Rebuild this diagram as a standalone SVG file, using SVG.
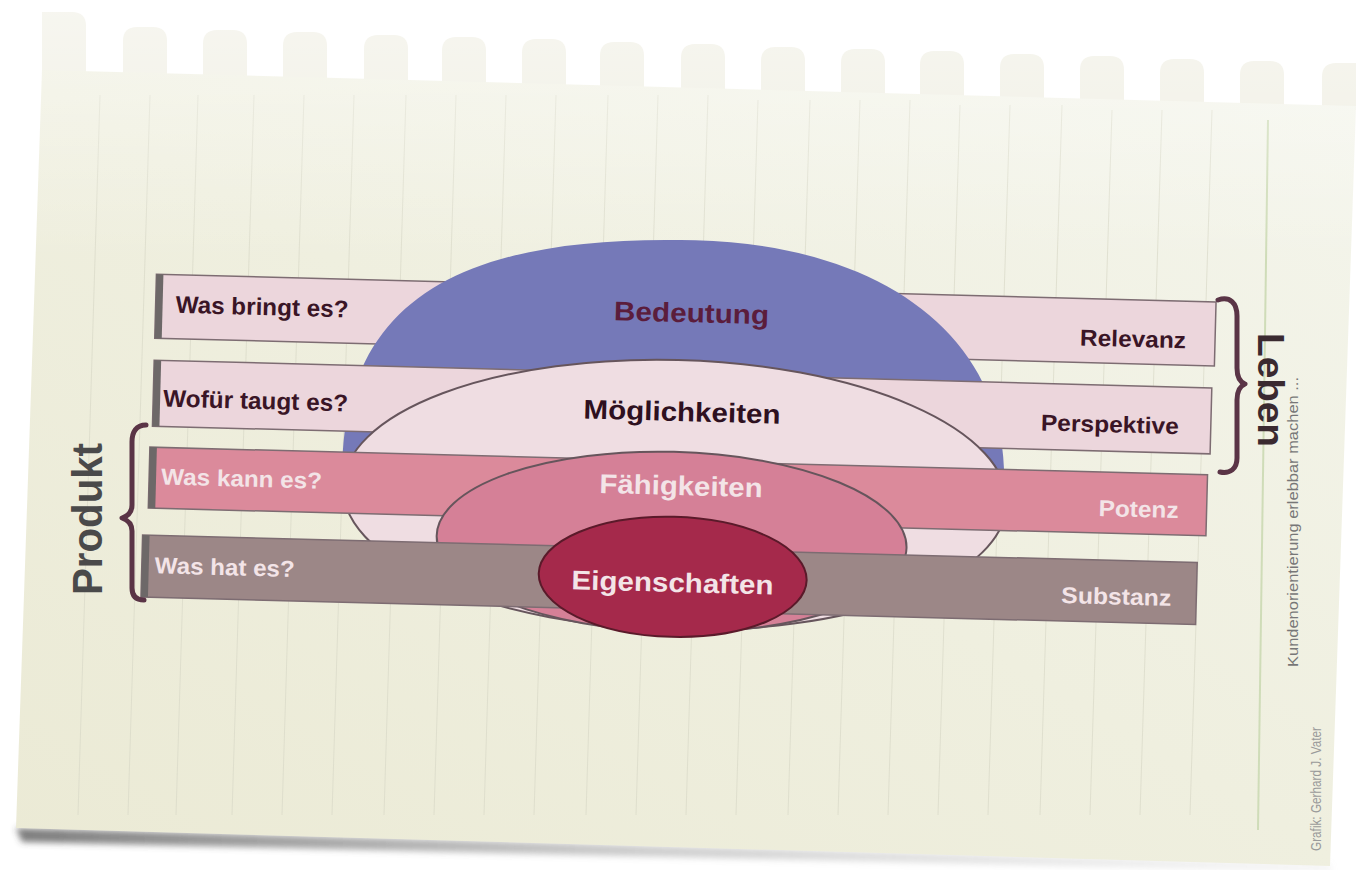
<svg xmlns="http://www.w3.org/2000/svg" width="1359" height="870" viewBox="0 0 1359 870">
<defs>
  <linearGradient id="paperG" x1="0" y1="1" x2="1" y2="0">
    <stop offset="0" stop-color="#ebead5"/>
    <stop offset="0.5" stop-color="#efefdf"/>
    <stop offset="1" stop-color="#f4f5ec"/>
  </linearGradient>
  <linearGradient id="topWash" x1="0" y1="0" x2="0" y2="1">
    <stop offset="0" stop-color="#ffffff" stop-opacity="0.5"/>
    <stop offset="1" stop-color="#ffffff" stop-opacity="0"/>
  </linearGradient>
  <linearGradient id="shadowG" x1="0" y1="0" x2="1" y2="0">
    <stop offset="0" stop-color="#444444" stop-opacity="0.7"/>
    <stop offset="0.5" stop-color="#888888" stop-opacity="0.4"/>
    <stop offset="1" stop-color="#bbbbbb" stop-opacity="0.15"/>
  </linearGradient>
  <filter id="blur" x="-5%" y="-50%" width="110%" height="200%">
    <feGaussianBlur stdDeviation="3"/>
  </filter>
</defs>
<style>
  .tab{fill:#efeee2}
  .rule{stroke:#d9d9c8;stroke-width:1;fill:none;opacity:0.7}
  .bar{stroke:#7d6c72;stroke-width:1.5}
  .b-light{fill:#ecd6dc}
  .b-pink{fill:#db8a9b}
  .b-gray{fill:#9c8787}
  .strip{fill:#6d6868}
  .ell{stroke:#66555c;stroke-width:2}
  .t{font-family:"Liberation Sans",Arial,sans-serif;font-weight:bold}
  .dark{fill:#3a1526}
  .light{fill:#f3e4e7}
  .brace{fill:none;stroke:#5a3446;stroke-width:5;stroke-linecap:round;stroke-linejoin:round}
</style>

<rect width="1359" height="870" fill="#ffffff"/>

<g id="paper">
  <polygon points="16,828 1330,864 1332,872 22,842" fill="url(#shadowG)" filter="url(#blur)"/>
  <path class="tab" d="M42,75 L42,12 L72,12 Q86,12 86,26 L86,75 Z"/>
  <path class="tab" d="M123,76 L123,41 Q123,27 137,27 L153,27 Q167,27 167,41 L167,76 Z"/>
  <path class="tab" d="M203,79 L203,44 Q203,30 217,30 L233,30 Q247,30 247,44 L247,79 Z"/>
  <path class="tab" d="M283,81 L283,46 Q283,32 297,32 L313,32 Q327,32 327,46 L327,81 Z"/>
  <path class="tab" d="M364,83 L364,49 Q364,35 378,35 L394,35 Q408,35 408,49 L408,83 Z"/>
  <path class="tab" d="M442,85 L442,51 Q442,37 456,37 L472,37 Q486,37 486,51 L486,85 Z"/>
  <path class="tab" d="M522,87 L522,53 Q522,39 536,39 L552,39 Q566,39 566,53 L566,87 Z"/>
  <path class="tab" d="M600,90 L600,56 Q600,42 614,42 L630,42 Q644,42 644,56 L644,90 Z"/>
  <path class="tab" d="M681,92 L681,58 Q681,44 695,44 L711,44 Q725,44 725,58 L725,92 Z"/>
  <path class="tab" d="M761,94 L761,61 Q761,47 775,47 L791,47 Q805,47 805,61 L805,94 Z"/>
  <path class="tab" d="M841,96 L841,63 Q841,49 855,49 L871,49 Q885,49 885,63 L885,96 Z"/>
  <path class="tab" d="M920,99 L920,65 Q920,51 934,51 L950,51 Q964,51 964,65 L964,99 Z"/>
  <path class="tab" d="M1000,101 L1000,68 Q1000,54 1014,54 L1030,54 Q1044,54 1044,68 L1044,101 Z"/>
  <path class="tab" d="M1080,103 L1080,70 Q1080,56 1094,56 L1110,56 Q1124,56 1124,70 L1124,103 Z"/>
  <path class="tab" d="M1160,105 L1160,73 Q1160,59 1174,59 L1190,59 Q1204,59 1204,73 L1204,105 Z"/>
  <path class="tab" d="M1240,108 L1240,75 Q1240,61 1254,61 L1270,61 Q1284,61 1284,75 L1284,108 Z"/>
  <path class="tab" d="M1322,110 L1322,77 Q1322,63 1336,63 L1356,63 L1356,110 Z"/>
  <polygon points="42,70 1356,106 1330,866 16,828" fill="url(#paperG)"/>
  <g>
    <line class="rule" x1="100" y1="95" x2="78" y2="815"/>
    <line class="rule" x1="150" y1="95" x2="128" y2="815"/>
    <line class="rule" x1="198" y1="95" x2="176" y2="815"/>
    <line class="rule" x1="254" y1="95" x2="232" y2="815"/>
    <line class="rule" x1="304" y1="95" x2="282" y2="815"/>
    <line class="rule" x1="354" y1="95" x2="332" y2="815"/>
    <line class="rule" x1="406" y1="95" x2="384" y2="815"/>
    <line class="rule" x1="456" y1="95" x2="434" y2="815"/>
    <line class="rule" x1="506" y1="95" x2="484" y2="815"/>
    <line class="rule" x1="556" y1="95" x2="534" y2="815"/>
    <line class="rule" x1="608" y1="95" x2="586" y2="815"/>
    <line class="rule" x1="658" y1="95" x2="636" y2="815"/>
    <line class="rule" x1="708" y1="95" x2="686" y2="815"/>
    <line class="rule" x1="758" y1="100" x2="736" y2="815"/>
    <line class="rule" x1="810" y1="100" x2="788" y2="815"/>
    <line class="rule" x1="860" y1="100" x2="838" y2="815"/>
    <line class="rule" x1="910" y1="100" x2="888" y2="815"/>
    <line class="rule" x1="960" y1="105" x2="938" y2="815"/>
    <line class="rule" x1="1010" y1="105" x2="988" y2="815"/>
    <line class="rule" x1="1062" y1="105" x2="1040" y2="815"/>
    <line class="rule" x1="1112" y1="110" x2="1090" y2="815"/>
    <line class="rule" x1="1162" y1="110" x2="1140" y2="815"/>
    <line class="rule" x1="1212" y1="110" x2="1190" y2="815"/>
    <line x1="1268" y1="120" x2="1258" y2="830" stroke="#cfdcb8" stroke-width="2"/>
  </g>
  <rect x="0" y="0" width="1359" height="260" fill="url(#topWash)"/>
</g>

<g id="diagram" transform="rotate(1.5 680 450)">
  <g id="bar-bringt">
    <rect class="bar b-light" x="152" y="288" width="1060" height="64"/>
    <rect class="strip" x="152" y="288" width="7" height="64"/>
    <text class="t dark" x="172" y="326" font-size="24" textLength="173" lengthAdjust="spacingAndGlyphs">Was bringt es?</text>
    <text class="t dark" x="1183" y="335" font-size="23" text-anchor="end" textLength="106" lengthAdjust="spacingAndGlyphs">Relevanz</text>
  </g>
  <g id="node-bedeutung">
    <path d="M343,472 C343,300 470,240 690,240 C880,240 1003,330 1005,472 Z" fill="#7579b8"/>
    <text class="t" x="688" y="322" font-size="27" fill="#5b1d3c" text-anchor="middle" textLength="155" lengthAdjust="spacingAndGlyphs">Bedeutung</text>
  </g>
  <g id="bar-wofuer">
    <rect class="bar b-light" x="152" y="374" width="1058" height="66"/>
    <rect class="strip" x="152" y="374" width="7" height="66"/>
    <text class="t dark" x="162" y="420" font-size="24" textLength="185" lengthAdjust="spacingAndGlyphs">Wofür taugt es?</text>
    <text class="t dark" x="1178" y="421" font-size="23" text-anchor="end" textLength="138" lengthAdjust="spacingAndGlyphs">Perspektive</text>
  </g>
  <g id="node-moeglichkeiten">
    <ellipse class="ell" cx="676" cy="495" rx="332" ry="135" fill="#efdde2"/>
    <text class="t" x="681" y="421" font-size="27" fill="#2e1020" text-anchor="middle" textLength="197" lengthAdjust="spacingAndGlyphs">Möglichkeiten</text>
  </g>
  <g id="bar-kann">
    <rect class="bar b-pink" x="150" y="461" width="1058" height="61"/>
    <rect class="strip" x="150" y="461" width="7" height="61" fill="#6a585e"/>
    <text class="t light" x="162" y="498" font-size="23" textLength="161" lengthAdjust="spacingAndGlyphs">Was kann es?</text>
    <text class="t light" x="1180" y="505" font-size="23" text-anchor="end" textLength="80" lengthAdjust="spacingAndGlyphs">Potenz</text>
  </g>
  <g id="node-faehigkeiten">
    <ellipse class="ell" cx="674" cy="542" rx="235" ry="90" fill="#d58097"/>
    <text class="t light" x="682" y="495" font-size="27" text-anchor="middle" textLength="163" lengthAdjust="spacingAndGlyphs">Fähigkeiten</text>
  </g>
  <g id="bar-hat">
    <rect class="bar b-gray" x="145" y="549" width="1055" height="62"/>
    <rect class="strip" x="145" y="549" width="7" height="62" fill="#6b5d5d"/>
    <text class="t light" x="158" y="587" font-size="23" textLength="140" lengthAdjust="spacingAndGlyphs">Was hat es?</text>
    <text class="t light" x="1175" y="593" font-size="23" text-anchor="end" textLength="110" lengthAdjust="spacingAndGlyphs">Substanz</text>
  </g>
  <g id="node-eigenschaften">
    <ellipse cx="676" cy="577" rx="134" ry="60" fill="#a5294b" stroke="#5a1a2a" stroke-width="2"/>
    <text class="t light" x="676" y="592" font-size="27" text-anchor="middle" textLength="202" lengthAdjust="spacingAndGlyphs">Eigenschaften</text>
  </g>
</g>

<g id="connectors">
  <path class="brace" d="M1218,300 C1230,296 1237,303 1237,316 L1237,368 C1237,378 1240,382 1245,384 C1240,386 1237,390 1237,400 L1237,458 C1237,469 1230,474 1220,472"/>
  <path class="brace" d="M146,425 C136,425 132,432 132,442 L132,505 C132,512 128,516 122,518 C128,520 132,524 132,531 L132,588 C132,596 136,600 144,600"/>
</g>

<g id="label-produkt">
  <text class="t" transform="translate(102,595) rotate(-90)" font-size="42" fill="#4a4a4a" textLength="152" lengthAdjust="spacingAndGlyphs">Produkt</text>
</g>
<g id="label-leben">
  <text class="t" transform="translate(1258,333) rotate(90)" font-size="36" fill="#3a2a30" textLength="114" lengthAdjust="spacingAndGlyphs">Leben</text>
</g>
<g id="label-kunden">
  <text transform="translate(1298,667) rotate(-90)" font-family="Liberation Sans, Arial, sans-serif" font-size="15" fill="#777777" textLength="290" lengthAdjust="spacingAndGlyphs">Kundenorientierung erlebbar machen ...</text>
</g>
<g id="credit">
  <text transform="translate(1321,851) rotate(-90)" font-family="Liberation Sans, Arial, sans-serif" font-size="14" fill="#9a9a9a" textLength="124" lengthAdjust="spacingAndGlyphs">Grafik: Gerhard J. Vater</text>
</g>
</svg>
